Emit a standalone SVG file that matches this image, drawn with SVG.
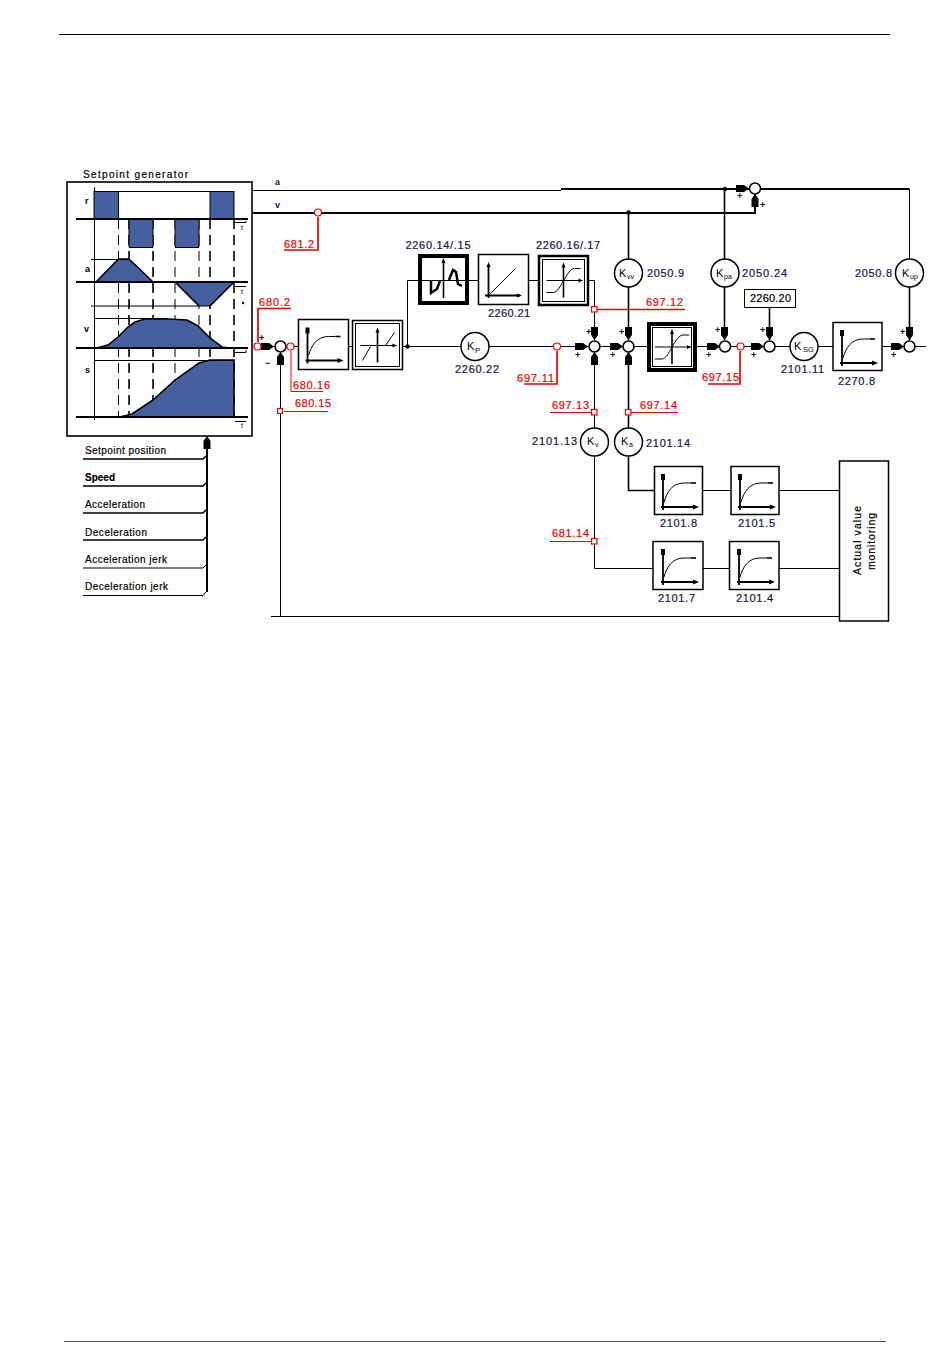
<svg xmlns="http://www.w3.org/2000/svg" width="950" height="1369" viewBox="0 0 950 1369">
<style>
text{font-family:"Liberation Sans",Arial,sans-serif}
.n{font-size:11px;fill:#14144f;stroke:#14144f;stroke-width:.2}
.r{font-size:11px;fill:#f00000;stroke:#f00000;stroke-width:.2}
.k{font-size:10px;fill:#000;stroke:#000;stroke-width:.2}
.b{fill:#fff;stroke:#000;stroke-width:1.5}
.bt{fill:#fff;stroke:#000;stroke-width:4}
.in{fill:none;stroke:#000;stroke-width:1}
.c{fill:#fff;stroke:#000;stroke-width:1.5}
.w{fill:none;stroke:#000;stroke-width:1}
.m{fill:none;stroke:#000;stroke-width:1.6}
.t{fill:none;stroke:#000;stroke-width:2}
.rl{fill:none;stroke:#f00000;stroke-width:1}
.rt{fill:none;stroke:#f00000;stroke-width:1.7}
.rm{fill:#fff;stroke:#f00000;stroke-width:1.2}
.ax{stroke:#000;stroke-width:1.8;fill:none}
.cv{stroke:#000;stroke-width:1;fill:none}
.blue{fill:#46609f;stroke:none}
.d{stroke:#000;stroke-width:1;stroke-dasharray:10 6;fill:none}
.d2{stroke:#000;stroke-width:1.6;stroke-dasharray:10 6;fill:none}
.s{font-size:9px;font-weight:bold;fill:#000}
</style>
<defs>
<path id="ar" d="M-13,-3.500H-5L0,0L-5,3.500H-13Z" fill="#000"/>
<g id="pt1">
<path class="ax" d="M9,12V44M7,41H42"/><path d="M7,8h4v6h-4zM45,41l-6,-2.500v5z" fill="#000"/>
<path class="cv" d="M10,36C13,26 18,17 30,17H37"/><path d="M37,17H42" stroke="#000" stroke-width="1.600"/>
</g>
<g id="lim">
<path class="cv" d="M8,25H44"/><path d="M25,10V42" stroke="#000" stroke-width="1.6"/>
<path d="M25,7l-2,5h4zM44,25l-4,-2v4z" fill="#000"/>
<path class="cv" d="M10,40L18,26M33,25L42,12"/>
</g>
<g id="sat">
<path class="cv" d="M8,25H44"/><path d="M25,10V42" stroke="#000" stroke-width="1.6"/>
<path d="M25,7l-2,5h4zM44,25l-4,-2v4z" fill="#000"/>
<path class="cv" d="M8,37H15C22,37 28,13 36,13H42"/>
</g>
</defs>

<g id="page-rules">
<line x1="59" y1="34.500" x2="890" y2="34.500" stroke="#000" stroke-width="1"/>
<line x1="64" y1="1341.500" x2="886" y2="1341.500" stroke="#555" stroke-width="1"/>
</g>

<g id="setpoint-generator">
<text x="83" y="178" class="k" textLength="105">Setpoint generator</text>
<rect x="67" y="182" width="185" height="254" fill="#fff" stroke="#000" stroke-width="1.6"/>
<path class="w" d="M94.500,187V420"/>
<path class="d" d="M118.500,219V417M199,219V417M175,219V417"/>
<path class="d2" d="M129,219V417M153,219V417M210,219V417M234,219V417"/>
<rect class="blue" x="94" y="191" width="24.500" height="28"/>
<rect class="blue" x="210" y="191" width="24" height="28"/>
<rect class="blue" x="129" y="219" width="24" height="28"/>
<rect class="blue" x="175" y="219" width="24" height="28"/>
<path class="blue" d="M96,282L118.500,259H129L153,282Z"/>
<path class="blue" d="M175,282L199,306H210L234,282Z"/>
<path class="blue" d="M97,348L108,345L118,337L128,327L135,322L145,319L168,319L187,320L198,326L210,338L222,347L230,348Z"/>
<path class="blue" d="M120,417L132,414L153,400L175,380L199,363L210,360H234V417Z"/>
<g>
<path class="w" d="M94,191.500H234M129,247.500H153M175,247.500H199M91,259.500H129M91,306H210M94,318.500H168M94,360.500H234M94,191V219M118.500,191V219M210,191V219M234,191V219M129,219V247M153,219V247M175,219V247M199,219V247"/>
<path class="t" d="M76,219H248M76,282H248M76,348H248M76,417H248"/>
<path class="m" d="M96,282L118.500,259H129L153,282M175,282L199,306M210,306L234,282"/>
<path class="m" d="M97,348L108,345L118,337L128,327L135,322L145,319L168,319L187,320L198,326L210,338L222,347L230,348"/>
<path class="m" d="M120,417L132,414L153,400L175,380L199,363L210,360H234V417"/>
<path class="w" d="M234,222.500H246V221M234,286.500H246M234,352.500H246V350M235,421.500H246"/>
<circle cx="243" cy="303" r="1.200" fill="#000"/>
</g>
<text x="85" y="204" class="s">r</text>
<text x="85" y="272" class="s">a</text>
<text x="84" y="332" class="s">v</text>
<text x="85" y="373" class="s">s</text>
<text x="241" y="230" font-size="7" fill="#000">t</text>
<text x="241" y="294" font-size="7" fill="#000">t</text>
<text x="241" y="428" font-size="7" fill="#000">t</text>
</g>

<g id="setpoint-list">
<path class="t" d="M207,446V592"/>
<path class="m" d="M83,459H203L206,456M83,486H203L206,483M83,513H203L206,510M83,540H203L206,537"/>
<path class="w" d="M83,568H203L206,565M83,595.500H203L206,592"/>
<use href="#ar" transform="translate(207,436) rotate(-90)"/>
<text x="85" y="454" class="k" textLength="81">Setpoint position</text>
<text x="85" y="481" class="k" font-weight="bold" textLength="30">Speed</text>
<text x="85" y="508" class="k" textLength="60">Acceleration</text>
<text x="85" y="536" class="k" textLength="62">Deceleration</text>
<text x="85" y="563" class="k" textLength="82">Acceleration jerk</text>
<text x="85" y="590" class="k" textLength="83">Deceleration jerk</text>
</g>

<g id="connectors">
<path class="w" d="M252,190.500H561"/>
<path class="t" d="M561,189H750M760,189H909.500"/>
<path class="w" d="M909.500,189V259"/>
<path class="t" d="M252,213H755V194"/>
<path class="m" d="M628.500,213V259M724.500,189V259"/>
<path class="w" d="M259,346.500H275M285,346.500H298M349,346.500H352M403,346.500H461M489,346.500H588M600,346.500H623M634,346.500H647M697,346.500H720M731,346.500H764M775,346.500H790M818,346.500H833M882,346.500H904M915,346.500H926"/>
<path class="w" d="M407.500,346.500V280.500H418M469,280.500H478M528,280.500H538M588,280.500H594.500V340"/>
<path class="m" d="M628.500,287V340M724.500,287V340M769.500,307V340M909.500,287V340"/>
<path class="w" d="M280.500,352V616M271,616.500H839"/>
<path class="w" d="M594.500,352V428M594.500,456V568.500H653M703,568.500H729M779,568.500H839"/>
<path class="m" d="M628.500,352V428"/>
<path class="m" d="M628.500,456V490.500H654"/>
<path class="w" d="M703,490.500H731M779,490.500H839"/>
<circle cx="407.500" cy="346.500" r="2.200" fill="#000"/>
<circle cx="628.500" cy="212.500" r="2.200" fill="#000"/>
<circle cx="725" cy="189" r="2.200" fill="#000"/>
<use href="#ar" transform="translate(274,346.500)"/>
<use href="#ar" transform="translate(280.500,352) rotate(-90)"/>
<use href="#ar" transform="translate(588,346.500)"/>
<use href="#ar" transform="translate(623,346.500)"/>
<use href="#ar" transform="translate(720,346.500)"/>
<use href="#ar" transform="translate(764,346.500)"/>
<use href="#ar" transform="translate(904,346.500)"/>
<use href="#ar" transform="translate(594.500,340) rotate(90)"/>
<use href="#ar" transform="translate(628.500,340) rotate(90)"/>
<use href="#ar" transform="translate(724.500,340) rotate(90)"/>
<use href="#ar" transform="translate(769.500,340) rotate(90)"/>
<use href="#ar" transform="translate(909.500,340) rotate(90)"/>
<use href="#ar" transform="translate(594.500,352) rotate(-90)"/>
<use href="#ar" transform="translate(628.500,352) rotate(-90)"/>
<use href="#ar" transform="translate(749,188.500)"/>
<use href="#ar" transform="translate(755,194) rotate(-90)"/>
<g font-size="9" fill="#000" font-weight="bold" font-family="Liberation Sans">
<text x="259" y="341">+</text><text x="265" y="366">−</text>
<text x="575" y="358">+</text><text x="586" y="335">+</text>
<text x="610" y="358">+</text><text x="619" y="335">+</text>
<text x="706" y="358">+</text><text x="715" y="333">+</text>
<text x="751" y="358">+</text><text x="760" y="333">+</text>
<text x="891" y="358">+</text><text x="900" y="335">+</text>
<text x="737" y="199">+</text><text x="760" y="208">+</text>
</g>
</g>

<g id="sum1"><circle class="c" cx="280.500" cy="346.500" r="5.500"/></g>
<g id="sum2"><circle class="c" cx="594.500" cy="346.500" r="5.500"/></g>
<g id="sum3"><circle class="c" cx="628.500" cy="346.500" r="5.500"/></g>
<g id="sum4"><circle class="c" cx="725" cy="346.500" r="5.500"/></g>
<g id="sum5"><circle class="c" cx="769.500" cy="346.500" r="5.500"/></g>
<g id="sum6"><circle class="c" cx="909.500" cy="346.500" r="5.500"/></g>
<g id="sum7"><circle class="c" cx="755" cy="188.500" r="5.500"/></g>

<g id="block-680"><rect class="b" x="298.500" y="319.500" width="50" height="50"/><use href="#pt1" transform="translate(298.500,319.500)"/></g>
<g id="block-lim1"><rect class="b" x="352.500" y="320.500" width="50" height="49"/><rect class="in" x="355.500" y="323.500" width="44" height="43"/><use href="#lim" transform="translate(352.500,320.500)"/></g>
<g id="block-2260-14"><rect class="bt" x="420" y="256" width="47" height="47"/>
<path class="cv" d="M422,280.500H465"/><path d="M443.500,262V298" stroke="#000" stroke-width="1.600"/><path d="M443.500,258l-2,5h4z" fill="#000"/>
<path d="M431,280V293L437,289L440,281M449,280L453,270L456,272L458,284L462,286" fill="none" stroke="#000" stroke-width="2.500"/>
<text x="438" y="249" class="n" text-anchor="middle" textLength="65">2260.14/.15</text></g>
<g id="block-2260-21"><rect class="b" x="478.500" y="254.500" width="50" height="50"/>
<path class="ax" d="M488.500,265V298M485,295.500H520"/><path d="M488.500,262l-2,5h4zM522,295.500l-5,-2v4z" fill="#000"/><path class="cv" d="M490,294L515,269"/>
<text x="509" y="317" class="n" text-anchor="middle" textLength="42">2260.21</text></g>
<g id="block-2260-16"><rect class="b" x="539" y="256" width="49" height="49" style="stroke-width:2.500"/><rect class="in" x="542.500" y="259.500" width="42" height="42"/><use href="#sat" transform="translate(538.500,255.500)"/>
<text x="568" y="249" class="n" text-anchor="middle" textLength="64">2260.16/.17</text></g>
<g id="gain-kp"><circle class="c" cx="475" cy="346.500" r="14"/><text x="467" y="350" font-size="11" fill="#000">K</text><text x="475" y="353" font-size="8" fill="#000">P</text>
<text x="477" y="373" class="n" text-anchor="middle" textLength="44">2260.22</text></g>
<g id="gain-kvv"><circle class="c" cx="628.500" cy="273" r="14"/><text x="619" y="277" font-size="11" fill="#000">K</text><text x="627" y="279" font-size="7" fill="#000">vv</text>
<text x="647" y="277" class="n" textLength="37">2050.9</text></g>
<g id="gain-kpa"><circle class="c" cx="725" cy="273" r="14"/><text x="716" y="277" font-size="11" fill="#000">K</text><text x="724" y="279" font-size="7" fill="#000">pa</text>
<text x="742" y="277" class="n" textLength="45">2050.24</text></g>
<g id="gain-kup"><circle class="c" cx="909.500" cy="273" r="14"/><text x="902" y="277" font-size="11" fill="#000">K</text><text x="910" y="279" font-size="7" fill="#000">up</text>
<text x="855" y="277" class="n" textLength="37">2050.8</text></g>
<g id="block-lim2"><rect class="bt" x="649" y="324" width="46" height="46"/><rect class="in" x="652.500" y="327.500" width="39" height="39"/><use href="#sat" transform="translate(647,322)"/></g>
<g id="box-2260-20"><rect x="744.500" y="289.500" width="51" height="18" fill="#fff" stroke="#000" stroke-width="1"/><text x="750" y="302" class="k" style="font-size:11px" textLength="41">2260.20</text></g>
<g id="gain-ksg"><circle class="c" cx="804" cy="346.500" r="14"/><text x="794" y="350" font-size="11" fill="#000">K</text><text x="803" y="352" font-size="7.500" fill="#000">SG</text>
<text x="781" y="373" class="n" textLength="43">2101.11</text></g>
<g id="block-2270-8"><rect class="b" x="833" y="322.500" width="49" height="48"/><use href="#pt1" transform="translate(833,322)"/><text x="838" y="385" class="n" textLength="37">2270.8</text></g>
<g id="gain-kv"><circle class="c" cx="594.500" cy="442" r="14"/><text x="587" y="445" font-size="11" fill="#000">K</text><text x="595" y="447" font-size="7" fill="#000">v</text>
<text x="532" y="445" class="n" textLength="45">2101.13</text></g>
<g id="gain-ka"><circle class="c" cx="628.500" cy="442" r="14"/><text x="621" y="445" font-size="11" fill="#000">K</text><text x="629" y="447" font-size="7" fill="#000">a</text>
<text x="646" y="447" class="n" textLength="44">2101.14</text></g>
<g id="block-2101-8"><rect class="b" x="654.500" y="466.500" width="48" height="48"/><use href="#pt1" transform="translate(654,466)"/><text x="660" y="527" class="n" textLength="37">2101.8</text></g>
<g id="block-2101-5"><rect class="b" x="731" y="466.500" width="48" height="48"/><use href="#pt1" transform="translate(731,466)"/><text x="738" y="527" class="n" textLength="37">2101.5</text></g>
<g id="block-2101-7"><rect class="b" x="653" y="541.500" width="50" height="48"/><use href="#pt1" transform="translate(654,541)"/><text x="658" y="602" class="n" textLength="37">2101.7</text></g>
<g id="block-2101-4"><rect class="b" x="729.500" y="541.500" width="49.500" height="48"/><use href="#pt1" transform="translate(730,541)"/><text x="736" y="602" class="n" textLength="37">2101.4</text></g>
<g id="monitor"><rect class="b" x="839.500" y="461" width="49" height="160"/>
<text transform="translate(861,575) rotate(-90)" class="k" style="font-size:10.500px" textLength="69">Actual value</text>
<text transform="translate(875,570) rotate(-90)" class="k" style="font-size:10.500px" textLength="57">monitoring</text></g>

<g id="signals">
<path class="rt" d="M284,250H318V217M258,342V308.500H291M557,351V384H524M594,309.500H685M740,351V384H708"/>
<path class="rl" d="M291,351V391.500H323M284,411.500H328M550,412.500H591M631,412.500H678M550,541.500H591"/>
<circle class="rm" cx="318" cy="212.500" r="3.500"/>
<circle class="rm" cx="257.500" cy="346.500" r="3.500"/>
<circle class="rm" cx="290.500" cy="346.500" r="3.500"/>
<circle class="rm" cx="557" cy="346.500" r="3.500"/>
<circle class="rm" cx="740.500" cy="346.500" r="3.500"/>
<rect class="rm" x="277.500" y="408.500" width="5" height="5"/>
<rect class="rm" x="591.500" y="306.500" width="5.500" height="5.500"/>
<rect class="rm" x="591.500" y="409.500" width="5.500" height="5.500"/>
<rect class="rm" x="625.500" y="409.500" width="5.500" height="5.500"/>
<rect class="rm" x="591.500" y="538.500" width="5.500" height="5.500"/>
<text x="284" y="248" class="r" textLength="30">681.2</text>
<text x="259" y="306" class="r" textLength="31">680.2</text>
<text x="293" y="389" class="r" textLength="37">680.16</text>
<text x="295" y="407" class="r" textLength="36">680.15</text>
<text x="517" y="382" class="r" textLength="37">697.11</text>
<text x="552" y="409" class="r" textLength="37">697.13</text>
<text x="646" y="306" class="r" textLength="37">697.12</text>
<text x="640" y="409" class="r" textLength="37">697.14</text>
<text x="702" y="381" class="r" textLength="37">697.15</text>
<text x="552" y="537" class="r" textLength="37">681.14</text>
</g>

<g id="bus-labels"><text x="275" y="185" class="s" style="fill:#14144f">a</text><text x="275" y="208" class="s" style="fill:#14144f">v</text></g>
</svg>
